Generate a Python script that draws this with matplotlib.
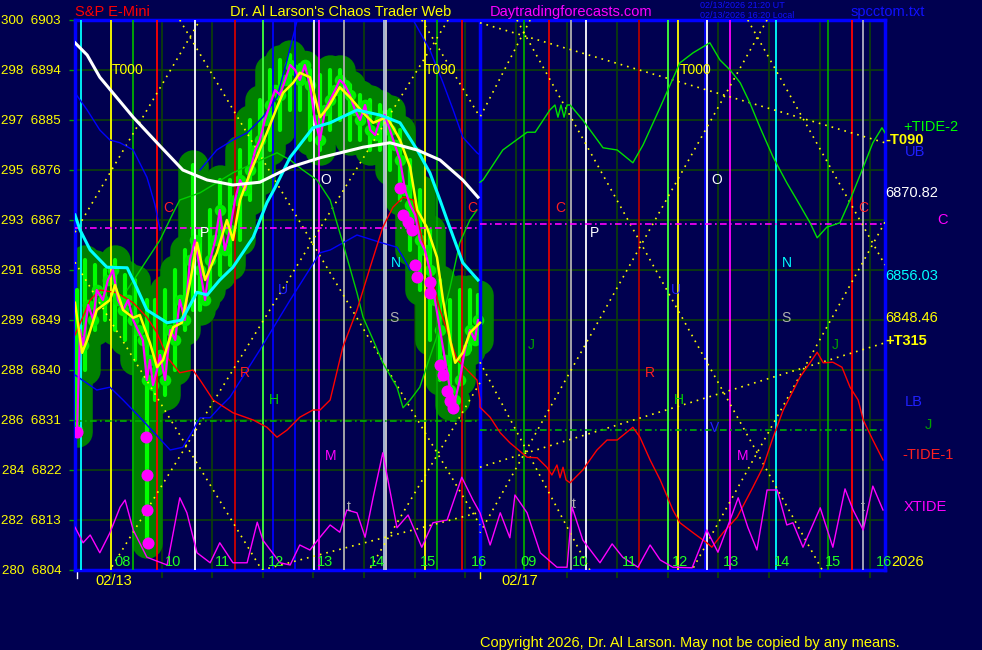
import matplotlib
matplotlib.use("Agg")
import matplotlib.pyplot as plt

plt.rcParams["font.family"] = ["Liberation Sans", "DejaVu Sans"]

BG = "#000050"
GRID = "#0c3c0c"
YEL = "#ffff00"

# left scale: index value / e-mini price
y_index = [300, 298, 297, 295, 293, 291, 289, 288, 286, 284, 282, 280]
y_price = [6903, 6894, 6885, 6876, 6867, 6858, 6849, 6840, 6831, 6822, 6813, 6804]

# x axis is hours from chart start (day 1 = 0..8, day 2 = 8..16)
hour_grid = [0.71 + k for k in range(16)]
hour_lbl = ["08", "10", "11", "12", "13", "14", "15", "16",
            "09", "10", "11", "12", "13", "14", "15", "16"]
hour_lbl_x = [0.93, 1.94, 2.92, 3.97, 4.94, 5.97, 6.97, 7.98,
              8.95, 9.98, 10.96, 11.95, 12.96, 13.97, 14.97, 15.98]

# vertical timing lines
vline_x = [0.12, 0.71, 1.15, 1.62, 2.37, 3.16, 3.71, 3.91, 4.35, 4.72, 4.82, 5.31,
           6.10, 6.14, 6.91, 7.15, 7.64, 8.87, 9.36, 9.80, 10.09, 11.14, 11.71,
           11.91, 12.44, 12.48, 12.94, 13.85, 14.87, 15.35, 15.57]
vline_c = ["#00ffff", "#ffff00", "#00b000", "#ff0000", "#ffffff", "#d00000", "#40ff40",
           "#0000ff", "#0000ff", "#ffffff", "#ff00ff", "#b0b0b0", "#b0c4de", "#d0d0d0",
           "#ffff00", "#00a800", "#e00000", "#00a800", "#e00000", "#b0b0b0", "#ffffff",
           "#b00000", "#40ff40", "#ffff00", "#0000ff", "#ffffff", "#ff00ff", "#00ffff",
           "#00a000", "#ff0000", "#b0b0c0"]

# price bars (hours, high, low)
bar_h = [0.04, 0.20, 0.40, 0.59, 0.79, 0.99, 1.19, 1.42, 1.58, 1.78, 1.98, 2.17, 2.33,
         2.47, 2.67, 2.86, 3.06, 3.26, 3.46, 3.65, 3.85, 4.05, 4.25, 4.44, 4.64, 4.84,
         5.04, 5.23, 5.43, 5.63, 5.83, 6.02, 6.22, 6.42, 6.62, 6.81, 7.01, 7.21, 7.41,
         7.60, 7.80, 7.96]
bar_hi = [6854.4, 6859.8, 6858.9, 6858.0, 6859.8, 6857.1, 6856.2, 6852.6, 6852.6, 6854.4,
          6858.0, 6861.6, 6876.9, 6865.2, 6868.8, 6874.2, 6874.2, 6879.6, 6885.0, 6888.6,
          6894.0, 6895.8, 6896.7, 6894.9, 6894.0, 6893.1, 6894.0, 6894.0, 6891.3, 6889.5,
          6888.6, 6887.7, 6886.8, 6883.2, 6877.8, 6872.4, 6865.2, 6856.2, 6852.6, 6854.4,
          6854.4, 6853.5]
bar_lo = [6828.8, 6840.0, 6847.2, 6849.0, 6847.2, 6845.4, 6841.8, 6808.9, 6834.6, 6835.5,
          6840.0, 6847.2, 6850.8, 6850.8, 6854.4, 6857.1, 6858.9, 6863.4, 6870.6, 6874.2,
          6879.6, 6883.2, 6886.8, 6886.8, 6881.4, 6879.6, 6883.2, 6885.0, 6881.4, 6881.4,
          6879.6, 6879.6, 6876.0, 6870.6, 6861.6, 6854.4, 6845.4, 6838.2, 6833.7, 6838.2,
          6843.6, 6845.4]

# close line (magenta)
close_h = [0.04, 0.10, 0.16, 0.26, 0.36, 0.43, 0.55, 0.65, 0.75, 0.85, 0.95, 1.05, 1.15,
           1.24, 1.34, 1.42, 1.48, 1.54, 1.62, 1.68, 1.78, 1.88, 1.98, 2.07, 2.17, 2.27,
           2.37, 2.47, 2.57, 2.67, 2.77, 2.86, 2.96, 3.06, 3.16, 3.26, 3.36, 3.46, 3.56,
           3.65, 3.75, 3.85, 3.95, 4.05, 4.15, 4.25, 4.35, 4.44, 4.54, 4.64, 4.74, 4.84,
           4.94, 5.04, 5.14, 5.23, 5.33, 5.43, 5.53, 5.63, 5.73, 5.83, 5.93, 6.02, 6.12,
           6.22, 6.32, 6.42, 6.52, 6.62, 6.72, 6.81, 6.91, 7.01, 7.11, 7.21, 7.31, 7.41,
           7.51, 7.60, 7.70, 7.80, 7.90, 7.96]
close_p = [6829.2, 6847.2, 6844.5, 6851.7, 6849.0, 6854.4, 6852.6, 6856.2, 6858.0, 6852.6,
           6850.8, 6852.6, 6849.0, 6847.2, 6845.4, 6838.2, 6841.8, 6837.3, 6840.0, 6842.7,
           6838.2, 6847.2, 6845.4, 6852.6, 6849.0, 6859.8, 6863.4, 6858.0, 6852.6, 6859.8,
           6863.4, 6868.8, 6861.6, 6865.2, 6870.6, 6874.2, 6872.4, 6876.0, 6879.6, 6881.4,
           6885.0, 6887.7, 6890.4, 6889.5, 6892.2, 6894.9, 6894.0, 6892.2, 6894.9, 6891.3,
           6885.0, 6881.4, 6886.8, 6888.6, 6890.4, 6892.2, 6891.3, 6889.5, 6886.8, 6885.0,
           6887.7, 6883.2, 6882.3, 6885.0, 6885.9, 6883.2, 6880.5, 6877.8, 6872.4, 6869.7,
           6867.9, 6863.4, 6861.6, 6858.0, 6852.6, 6847.2, 6841.8, 6836.4, 6834.6, 6838.2,
           6843.6, 6847.2, 6845.4, 6849.0]

# big magenta dots
dot_h = [0.04, 1.40, 1.42, 1.42, 1.44, 6.42, 6.48, 6.58, 6.66, 6.72, 6.76, 7.01, 7.01,
         7.21, 7.27, 7.35, 7.41, 7.47]
dot_p = [6828.8, 6827.9, 6821.1, 6814.8, 6808.9, 6872.8, 6867.9, 6866.6, 6865.2, 6858.9,
         6856.7, 6855.8, 6853.9, 6840.9, 6839.1, 6836.2, 6834.4, 6833.2]

# smoothed price (yellow)
smooth_h = [0, 0.14, 0.24, 0.43, 0.69, 0.79, 0.95, 1.15, 1.28, 1.48, 1.62, 1.74, 1.94,
            2.11, 2.27, 2.41, 2.57, 2.80, 3.00, 3.12, 3.26, 3.46, 3.79, 3.99, 4.11, 4.31,
            4.44, 4.64, 4.84, 5.00, 5.23, 5.43, 5.69, 5.89, 6.02, 6.16, 6.28, 6.42, 6.62,
            6.76, 6.95, 7.15, 7.27, 7.41, 7.51, 7.66, 7.80, 8.00]
smooth_p = [6852.1, 6843.1, 6845.4, 6850.8, 6852.6, 6855.3, 6850.8, 6849.4, 6849.9, 6844.9,
            6840.5, 6841.8, 6847.7, 6848.5, 6855.7, 6862.9, 6856.2, 6861.1, 6867.0, 6863.4,
            6870.6, 6875.5, 6882.7, 6887.3, 6889.9, 6891.7, 6893.5, 6892.7, 6885.5, 6887.3,
            6890.9, 6889.1, 6886.3, 6884.5, 6885.0, 6885.5, 6883.7, 6881.4, 6876.5, 6868.8,
            6865.7, 6860.3, 6852.6, 6845.4, 6841.3, 6843.1, 6846.7, 6848.5]

# white moving average
white_h = [0, 0.24, 0.49, 1.15, 1.62, 2.13, 2.61, 3.12, 3.65, 4.25, 4.84, 5.69, 6.22,
           6.76, 7.21, 7.66, 7.96]
white_p = [6898.9, 6896.7, 6892.7, 6885.5, 6880.9, 6876.0, 6874.2, 6873.3, 6873.8, 6876.5,
           6878.2, 6880.1, 6880.9, 6879.6, 6877.8, 6874.2, 6871.1]

# cyan moving average
cyan_h = [0, 0.10, 0.30, 0.63, 1.03, 1.22, 1.42, 1.82, 2.11, 2.41, 2.61, 2.86, 3.12, 3.52,
          3.79, 3.95, 4.25, 4.70, 5.04, 5.57, 6.02, 6.42, 6.76, 7.01, 7.21, 7.35, 7.66, 7.96]
cyan_p = [6867.9, 6865.2, 6861.6, 6858.5, 6858.4, 6854.8, 6850.8, 6848.5, 6849.0, 6854.0,
          6853.5, 6856.2, 6858.5, 6863.9, 6870.1, 6872.8, 6878.3, 6883.6, 6884.5, 6886.8,
          6885.9, 6884.5, 6879.6, 6875.5, 6870.6, 6867.0, 6859.3, 6856.2]

# blue projection lines
blue1_h = [0, 0.10, 0.24, 0.49, 0.69, 0.89, 1.15, 1.42, 1.48, 1.58, 1.68]
blue1_p = [6889.9, 6888.6, 6886.8, 6883.2, 6881.4, 6880.9, 6879.6, 6874.7, 6872.9, 6869.7,
           6865.2]
blue2_h = [0, 0.43, 0.69, 0.95, 1.28, 1.88, 2.13, 2.31, 2.47, 2.67, 2.86, 3.06, 3.65, 4.25,
           4.84, 5.04, 5.57, 6.02, 6.36, 6.48, 6.62]
blue2_p = [6839.1, 6836.4, 6836.9, 6834.6, 6831.5, 6825.6, 6826.1, 6828.8, 6831.4, 6831.4,
           6833.3, 6835.1, 6843.6, 6852.6, 6861.1, 6861.6, 6864.3, 6863.0, 6862.1, 6860.3,
           6858.0]
blue3_h = [2.47, 2.80, 3.12, 3.40, 3.71, 3.99, 4.19, 4.39, 4.84, 5.63, 6.42, 6.68, 7.01,
           7.27, 7.47, 7.66, 7.94, 8.00]
blue3_p = [6876.0, 6879.6, 6881.4, 6882.7, 6885.5, 6889.1, 6895.8, 6903.0, 6912.0, 6915.6,
           6912.0, 6903.0, 6897.6, 6891.7, 6886.8, 6881.9, 6879.1, 6878.7]

# green tide (day 1 and +TIDE-2 on day 2)
tide2a_h = [1.03, 1.68, 1.94, 2.07, 2.47, 3.12, 3.99, 4.25, 4.50, 4.78, 5.04, 5.29, 5.57,
            5.69, 5.89, 6.08, 6.36, 6.48, 6.62, 6.81, 7.01, 7.21, 7.41, 7.60, 7.80, 7.94]
tide2a_p = [6854.4, 6863.4, 6868.3, 6870.6, 6871.9, 6875.5, 6879.1, 6877.8, 6876.0, 6874.2,
            6870.6, 6862.9, 6853.9, 6849.5, 6845.4, 6841.3, 6836.9, 6833.2, 6834.6, 6836.9,
            6842.3, 6847.7, 6854.9, 6862.9, 6867.0, 6868.8]
tide2b_h = [8.00, 8.06, 8.45, 8.93, 9.09, 9.38, 9.48, 9.54, 9.60, 9.66, 9.72, 9.78, 10.03,
            10.43, 10.71, 11.02, 11.22, 11.56, 11.71, 11.95, 12.21, 12.54, 12.74, 12.94,
            13.14, 13.33, 13.53, 13.79, 14.06, 14.26, 14.52, 14.66, 14.85, 15.11, 15.31,
            15.57, 15.76, 15.94, 16.00]
tide2b_p = [6873.8, 6874.2, 6879.6, 6882.8, 6882.8, 6886.8, 6887.7, 6885.5, 6887.7, 6885.5,
            6887.7, 6887.7, 6885.0, 6880.0, 6879.6, 6877.3, 6880.5, 6887.3, 6890.4, 6895.3,
            6897.1, 6898.9, 6895.8, 6894.0, 6891.7, 6888.1, 6883.7, 6878.3, 6873.7, 6870.6,
            6866.5, 6863.8, 6865.7, 6866.5, 6870.6, 6876.5, 6880.9, 6883.6, 6882.7]

# red -TIDE-1
tide1_h = [0, 0.30, 0.49, 0.83, 1.15, 1.42, 1.62, 1.82, 2.07, 2.33, 2.47, 2.73, 3.12, 3.52,
           3.79, 3.99, 4.19, 4.44, 4.70, 4.84, 5.04, 5.29, 5.57, 5.83, 6.08, 6.28, 6.48,
           6.68, 6.91, 7.21, 7.55, 7.80, 7.94, 8.00, 8.00, 8.20, 8.40, 8.59, 8.93, 9.13,
           9.32, 9.42, 9.52, 9.58, 9.64, 9.70, 9.78, 10.03, 10.31, 10.51, 10.71, 11.02,
           11.16, 11.36, 11.56, 11.81, 11.95, 12.21, 12.48, 12.58, 12.80, 13.08, 13.39,
           13.59, 13.79, 13.99, 14.12, 14.32, 14.52, 14.66, 14.78, 14.97, 15.15, 15.31,
           15.47, 15.57, 15.76, 15.96]
tide1_p = [6846.3, 6852.6, 6854.4, 6853.9, 6852.1, 6849.5, 6846.7, 6842.3, 6839.5, 6840.0,
           6838.2, 6834.6, 6832.3, 6831.0, 6829.7, 6827.9, 6829.2, 6831.5, 6832.8, 6832.8,
           6834.6, 6844.1, 6850.8, 6858.5, 6865.7, 6869.3, 6871.1, 6870.6, 6861.6, 6850.8,
           6841.8, 6839.5, 6838.2, 6834.6, 6833.3, 6831.5, 6828.7, 6826.9, 6824.3, 6824.2,
           6822.5, 6821.1, 6822.9, 6820.6, 6822.5, 6820.2, 6819.7, 6822.0, 6825.6, 6827.4,
           6827.4, 6829.7, 6827.9, 6823.8, 6820.2, 6814.8, 6812.5, 6810.7, 6808.9, 6808.1,
           6810.7, 6813.5, 6818.9, 6822.5, 6827.9, 6832.8, 6835.1, 6838.7, 6841.3, 6843.2,
           6841.3, 6841.4, 6840.5, 6836.9, 6834.6, 6831.0, 6827.4, 6823.8]

# magenta XTIDE
xtide_h = [0, 0.16, 0.30, 0.49, 0.69, 0.89, 0.99, 1.15, 1.42, 1.82, 1.94, 2.07, 2.21, 2.41,
           2.67, 2.86, 3.12, 3.40, 3.60, 3.71, 4.05, 4.25, 4.44, 4.64, 4.84, 5.04, 5.23,
           5.37, 5.57, 5.73, 5.89, 6.08, 6.36, 6.58, 6.85, 7.07, 7.35, 7.64, 7.86, 8.00,
           8.20, 8.40, 8.59, 8.69, 8.93, 9.19, 9.52, 9.72, 9.82, 10.03, 10.37, 10.61, 10.82,
           11.12, 11.36, 11.56, 11.81, 12.19, 12.35, 12.48, 12.70, 12.94, 13.10, 13.29,
           13.47, 13.67, 13.87, 14.06, 14.18, 14.38, 14.72, 14.97, 15.21, 15.37, 15.57,
           15.76, 15.96]
xtide_p = [6811.7, 6808.9, 6810.3, 6807.1, 6810.7, 6815.3, 6816.6, 6811.2, 6806.3, 6804.9,
           6810.7, 6817.0, 6814.3, 6807.1, 6805.3, 6808.9, 6805.3, 6805.3, 6812.6, 6809.4,
           6805.3, 6804.9, 6808.5, 6807.6, 6809.9, 6812.1, 6810.8, 6814.8, 6814.3, 6809.9,
           6817.1, 6825.1, 6811.6, 6813.9, 6808.1, 6812.5, 6813.0, 6820.7, 6816.6, 6814.3,
           6808.5, 6814.3, 6809.8, 6817.5, 6814.3, 6807.1, 6804.5, 6804.5, 6815.3, 6809.4,
           6805.3, 6808.7, 6806.3, 6804.5, 6808.5, 6805.8, 6804.5, 6804.4, 6808.1, 6811.2,
           6807.2, 6813.0, 6817.0, 6811.7, 6807.6, 6818.4, 6818.4, 6812.1, 6812.5, 6808.1,
           6815.2, 6808.1, 6818.6, 6814.8, 6811.2, 6819.1, 6814.8]

# yellow dotted angle lines: (h1, p1, h2, p2)
angle_lines = [
    (0.00, 6864.8, 2.47, 6903.0), (2.07, 6903.0, 8.00, 6812.1),
    (7.37, 6903.0, 0.69, 6804.0), (6.85, 6903.0, 8.00, 6885.5),
    (0.00, 6859.4, 3.69, 6804.0), (3.69, 6804.0, 8.00, 6814.4),
    (8.00, 6837.7, 5.81, 6804.0), (8.00, 6902.5, 16.0, 6880.9),
    (8.00, 6822.5, 16.0, 6844.9), (8.73, 6903.0, 14.76, 6804.0),
    (8.99, 6903.0, 8.00, 6885.5), (13.29, 6903.0, 16.0, 6858.9),
    (13.67, 6903.0, 8.00, 6810.7), (8.00, 6841.4, 10.17, 6804.0),
    (16.0, 6866.6, 12.19, 6804.0),
]

# horizontal dash-dot levels: (h1, h2, price, colour)
levels = [(0, 8, 6865.6, "#ff00ff"), (8, 16, 6866.3, "#ff00ff"),
          (0, 8, 6830.8, "#00b000"), (8, 16, 6829.2, "#00b000")]

# letter labels inside the chart
letters = [("T000", 0.73, 6894.0, YEL), ("T090", 6.91, 6894.0, YEL), ("T000", 11.95, 6894.0, YEL),
           ("C", 1.74, 6869.2, "#ff2020"), ("C", 7.74, 6869.2, "#ff2020"),
           ("C", 9.48, 6869.2, "#ff2020"), ("C", 15.47, 6869.2, "#ff2020"),
           ("P", 2.47, 6864.7, "#ffffff"), ("P", 10.17, 6864.7, "#ffffff"),
           ("O", 4.84, 6874.2, "#ffffff"), ("O", 12.58, 6874.2, "#ffffff"),
           ("N", 6.24, 6859.3, "#00ffff"), ("N", 13.97, 6859.3, "#00ffff"),
           ("S", 6.20, 6849.4, "#b0b0b0"), ("S", 13.95, 6849.4, "#b0b0b0"),
           ("U", 4.01, 6854.4, "#2020ff"), ("U", 11.77, 6854.4, "#2020ff"),
           ("R", 3.26, 6839.5, "#ff2020"), ("R", 11.26, 6839.5, "#ff2020"),
           ("H", 3.83, 6834.6, "#00d000"), ("H", 11.83, 6834.6, "#00d000"),
           ("J", 8.95, 6844.5, "#00a000"), ("J", 14.95, 6844.5, "#00a000"),
           ("M", 4.94, 6824.5, "#ff00ff"), ("M", 13.08, 6824.5, "#ff00ff"),
           ("V", 12.54, 6829.6, "#2020ff"),
           ("t", 5.37, 6815.3, "#b0b0b0"), ("t", 9.82, 6815.8, "#b0b0b0"),
           ("t", 15.53, 6815.3, "#b0b0b0")]

# right-side labels
side_labels = [("+TIDE-2", 16.36, 6883.7, "#00ff00", "normal"),
               ("-T090", 16.0, 6881.4, YEL, "bold"),
               ("UB", 16.40, 6879.2, "#2020ff", "normal"),
               ("6870.82", 16.0, 6871.9, "#ffffff", "normal"),
               ("C", 17.03, 6867.0, "#ff00ff", "normal"),
               ("6856.03", 16.0, 6856.9, "#00ffff", "normal"),
               ("6848.46", 16.0, 6849.4, YEL, "normal"),
               ("+T315", 16.0, 6845.2, YEL, "bold"),
               ("LB", 16.40, 6834.2, "#2020ff", "normal"),
               ("J", 16.79, 6830.1, "#00a000", "normal"),
               ("-TIDE-1", 16.34, 6824.7, "#ff2020", "normal"),
               ("XTIDE", 16.36, 6815.3, "#ff00ff", "normal"),
               ("2026", 16.12, 6805.4, YEL, "normal")]

fig = plt.figure(figsize=(9.82, 6.5), dpi=100, facecolor=BG)
ax = fig.add_axes([75 / 982, 80 / 650, 810 / 982, 550 / 650], facecolor=BG)
ax.set_xlim(0, 16)
ax.set_ylim(6804, 6903)

ax.set_yticks(y_price)
ax.set_yticklabels([f"{a}  {b}" for a, b in zip(y_index, y_price)], color=YEL, fontsize=9.6)
ax.tick_params(axis="y", colors="#00a000", labelcolor=YEL, length=4, width=1, pad=6)
ax.set_xticks(hour_grid)
ax.set_xticklabels([])
ax.tick_params(axis="x", colors=GRID, length=6, width=1.4)
ax.grid(True, color=GRID, lw=1.3)
ax.set_axisbelow(True)
for s in ax.spines.values():
    s.set_color("#0000ff")
    s.set_linewidth(2.5)

# price bar blobs
ax.vlines(bar_h, bar_lo, bar_hi, colors="#008000", linewidths=22, capstyle="round", zorder=2)
ax.scatter(close_h, close_p, s=450, color="#008000", lw=0, zorder=2)
ax.vlines(bar_h, bar_lo, bar_hi, colors="#00ff00", linewidths=3, capstyle="round", zorder=3)
ax.scatter(close_h, close_p, s=70, color="#00ee00", lw=0, zorder=3)

# vertical timing lines and day separator
for x, c in zip(vline_x, vline_c):
    ax.axvline(x, color=c, lw=1.3, zorder=4)
ax.axvline(8.0, color="#0000ff", lw=2.5, zorder=4)

for h1, p1, h2, p2 in angle_lines:
    ax.plot([h1, h2], [p1, p2], color=YEL, lw=1.2, ls=(0, (1, 3)), zorder=4)
for h1, h2, p, c in levels:
    ax.plot([h1, h2], [p, p], color=c, lw=1.2, ls=(0, (4, 2, 1, 2)), zorder=4)

ax.plot(blue1_h, blue1_p, color="#0000ff", lw=1, zorder=5)
ax.plot(blue2_h, blue2_p, color="#0000ff", lw=1, zorder=5)
ax.plot(blue3_h, blue3_p, color="#0000ff", lw=1, zorder=5)
ax.plot(tide2a_h, tide2a_p, color="#00d000", lw=1, zorder=5)
ax.plot(tide2b_h, tide2b_p, color="#00e000", lw=1, zorder=5)
ax.plot(tide1_h, tide1_p, color="#ff0000", lw=1, zorder=5)
ax.plot(xtide_h, xtide_p, color="#ff00ff", lw=1, zorder=5)

ax.plot(close_h, close_p, color="#ff00ff", lw=1.6, zorder=6)
ax.scatter(dot_h, dot_p, s=75, color="#ff00ff", lw=0, zorder=7)
ax.plot(smooth_h, smooth_p, color=YEL, lw=1.8, zorder=7)
ax.plot(cyan_h, cyan_p, color="#00ffff", lw=2.2, zorder=7)
ax.plot(white_h, white_p, color="#ffffff", lw=2.2, zorder=7)

for t, x, y, c in letters:
    ax.text(x, y, t, color=c, fontsize=10, ha="left", va="center", zorder=8)
for t, x, y, c, w in side_labels:
    ax.text(x, y, t, color=c, fontsize=10.5, fontweight=w, ha="left", va="center",
            clip_on=False)
for t, x in zip(hour_lbl, hour_lbl_x):
    ax.text(x, 6805.4, t, color="#20ff20", fontsize=10.5, ha="center", va="center", zorder=8)

# day start marks and dates below the axis
ax.plot([0.04, 0.04], [6804, 6802.6], color="#ffffff", lw=1, clip_on=False)
ax.plot([8.0, 8.0], [6804, 6802.6], color=YEL, lw=1, clip_on=False)
ax.text(0.77, 6802.0, "02/13", color=YEL, fontsize=10.5, ha="center", va="center", clip_on=False)
ax.text(8.79, 6802.0, "02/17", color=YEL, fontsize=10.5, ha="center", va="center", clip_on=False)

fig.text(75 / 982, 1 - 12 / 650, "S&P E-Mini", color="#ff0000", fontsize=10.5, va="center")
fig.text(230 / 982, 1 - 12 / 650, "Dr. Al Larson's Chaos Trader Web", color=YEL,
         fontsize=10.5, va="center")
fig.text(490 / 982, 1 - 12 / 650, "Daytradingforecasts.com", color="#ff00ff",
         fontsize=10.5, va="center")
fig.text(700 / 982, 1 - 5 / 650, "02/13/2026 21:20 UT", color="#1010ff", fontsize=6.5,
         va="center")
fig.text(700 / 982, 1 - 15 / 650, "02/13/2026 16:20 Local", color="#1010ff", fontsize=6.5,
         va="center")
fig.text(851 / 982, 1 - 12 / 650, "spcctom.txt", color="#1010ff", fontsize=10.5, va="center")
fig.text(480 / 982, 1 - 643 / 650, "Copyright 2026, Dr. Al Larson. May not be copied by any means.",
         color=YEL, fontsize=10.5, va="center")

fig.savefig("out.png", dpi=100, facecolor=BG)
